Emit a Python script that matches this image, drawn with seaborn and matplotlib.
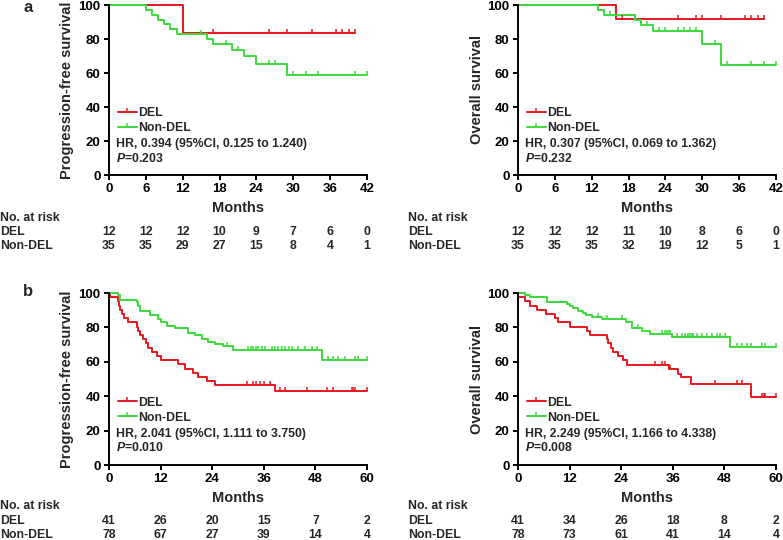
import numpy as np
import pandas as pd
import matplotlib
matplotlib.use("Agg")
import matplotlib.pyplot as plt
from matplotlib.path import Path
from matplotlib.lines import Line2D
from matplotlib.transforms import blended_transform_factory
import seaborn as sns

# ------------------------
# DATA
# ------------------------
# panel a, progression-free survival
a_pfs_del_t = [12]
a_pfs_del_s = [83.3]
a_pfs_del_end = 40
a_pfs_del_cens = [17, 26, 29, 33, 37, 38, 39, 40]
a_pfs_non_t = [6, 7, 8, 9, 10, 11, 16, 17, 20, 22, 24, 29]
a_pfs_non_s = [97.1, 94.3, 91.4, 88.6, 85.7, 82.9, 80.0, 77.0, 73.8, 69.9, 65.5, 58.8]
a_pfs_non_end = 42
a_pfs_non_cens = [15, 19, 21, 26, 27, 30, 32, 34, 40, 42]

# panel a, overall survival
a_os_del_t = [16]
a_os_del_s = [91.7]
a_os_del_end = 40
a_os_del_cens = [17, 26, 29, 30, 33, 37, 38, 39, 40]
a_os_non_t = [13, 14, 19, 20, 22, 30, 33]
a_os_non_s = [97.1, 94.3, 91.3, 88.2, 84.9, 77.3, 64.6]
a_os_non_end = 42
a_os_non_cens = [15, 21, 23, 24, 26, 27, 28, 29, 32, 34, 38, 40, 42]

# panel b, progression-free survival
b_pfs_del_t = [0.2, 2.0, 2.3, 2.6, 3.0, 3.5, 4.5, 6.5, 6.8, 7.2, 8.0, 8.5, 9.0, 10.0,
               11.1, 12.0, 16.1, 17.7, 19.6, 20.8, 22.7, 24.6, 38.6]
b_pfs_del_s = [97.6, 95.1, 92.7, 90.2, 87.8, 85.4, 82.9, 80.5, 78.0, 75.6, 73.2, 70.7, 68.3, 65.9,
               63.4, 61.0, 58.5, 56.1, 53.7, 51.2, 48.8, 46.6, 43.0]
b_pfs_del_end = 60
b_pfs_del_cens = [32, 33.6, 34.3, 35.1, 36.1, 37.4, 39.8, 40.9, 46, 50.6, 52.2, 56.4, 56.8, 57.2, 60]
b_pfs_non_t = [2.0, 2.6, 6.4, 6.8, 7.2, 9.5, 11.5, 12.2, 13.4, 15.3, 18.4, 20.0, 21.6, 23.0,
               24.7, 26.6, 28.9, 49.5]
b_pfs_non_s = [98.7, 96.2, 94.9, 92.3, 89.7, 87.2, 84.6, 83.3, 80.8, 79.5, 76.9, 75.6, 73.1, 71.8,
               70.5, 69.2, 66.7, 61.3]
b_pfs_non_end = 60
b_pfs_non_cens = [27.5, 32.4, 33.0, 33.6, 34.2, 34.7, 35.5, 36.3, 37.8, 38.6, 39.4, 40.2, 41.0,
                  41.8, 42.5, 44.0, 45.6, 47.1, 48.3, 51.0, 52.2, 53.3, 54.9, 57.2, 58.0, 60]

# panel b, overall survival
b_os_del_t = [0.1, 1.7, 2.9, 4.4, 6.5, 8.5, 9.4, 12.0, 16.0, 16.7, 20.6, 21.0, 21.6, 22.2,
              23.3, 24.5, 25.3, 35.2, 37.3, 38.0, 40.2, 54.1]
b_os_del_s = [97.6, 95.1, 92.7, 90.2, 87.8, 85.4, 82.9, 80.5, 78.0, 75.6, 73.2, 70.7, 68.3, 65.9,
              63.4, 61.0, 58.3, 55.6, 53.1, 51.0, 47.2, 39.4]
b_os_del_end = 60
b_os_del_cens = [31.9, 33.4, 34.2, 35.3, 37.3, 45.8, 50.9, 52.0, 56.7, 57.1, 57.4, 60]
b_os_non_t = [1.6, 2.8, 6.7, 11.4, 12.2, 12.8, 13.9, 15.0, 15.9, 17.1, 19.5, 25.0, 26.4, 28.8,
              30.7, 35.7, 49.3]
b_os_non_s = [98.7, 97.4, 94.9, 93.6, 92.3, 91.0, 89.7, 88.5, 87.2, 85.9, 84.6, 83.3, 79.5, 77.7,
              76.2, 74.6, 68.7]
b_os_non_end = 60
b_os_non_cens = [18.7, 20.6, 24.1, 28.0, 33.4, 34.2, 34.6, 35.0, 35.3, 36.9, 38.1, 38.8, 39.6,
                 40.0, 40.4, 40.8, 41.6, 42.7, 43.9, 45.0, 46.2, 47.0, 48.1, 50.9, 52.0, 53.2,
                 54.3, 56.7, 57.4, 60]

# numbers at risk
a_ticks = [0, 6, 12, 18, 24, 30, 36, 42]
b_ticks = [0, 12, 24, 36, 48, 60]
a_pfs_risk_del = [12, 12, 12, 10, 9, 7, 6, 0]
a_pfs_risk_non = [35, 35, 29, 27, 15, 8, 4, 1]
a_os_risk_del = [12, 12, 12, 11, 10, 8, 6, 0]
a_os_risk_non = [35, 35, 35, 32, 19, 12, 5, 1]
b_pfs_risk_del = [41, 26, 20, 15, 7, 2]
b_pfs_risk_non = [78, 67, 27, 39, 14, 4]
b_os_risk_del = [41, 34, 26, 18, 8, 2]
b_os_risk_non = [78, 73, 61, 41, 14, 4]

a_pfs_stats = ("HR, 0.394 (95%CI, 0.125 to 1.240)", "0.203")
a_os_stats = ("HR, 0.307 (95%CI, 0.069 to 1.362)", "0.232")
b_pfs_stats = ("HR, 2.041 (95%CI, 1.111 to 3.750)", "0.010")
b_os_stats = ("HR, 2.249 (95%CI, 1.166 to 4.338)", "0.008")

RED = "#EA161D"
GREEN = "#3CDA3C"

# ------------------------
# STYLE
# ------------------------
sns.set_theme(style="ticks")
plt.rcParams["font.family"] = ["Liberation Sans", "DejaVu Sans"]
plt.rcParams["font.weight"] = "bold"
plt.rcParams["axes.labelweight"] = "bold"
plt.rcParams["mathtext.fontset"] = "custom"
plt.rcParams["mathtext.it"] = "Liberation Sans:italic:bold"
plt.rcParams["mathtext.rm"] = "Liberation Sans:bold"

TICK = Path([(0, 0), (0, 1)], [Path.MOVETO, Path.LINETO])


def draw_curve(ax, times, surv, end, cens, color):
    xs = [0] + list(times) + [end]
    ys = [100] + list(surv) + [surv[-1]]
    df = pd.DataFrame({"x": xs, "y": ys})
    sns.lineplot(data=df, x="x", y="y", drawstyle="steps-post", estimator=None,
                 sort=False, color=color, lw=1.4, ax=ax, clip_on=False)
    step_t = np.array([0] + list(times))
    step_s = np.array([100] + list(surv))
    cy = step_s[np.searchsorted(step_t, cens, side="right") - 1]
    sns.scatterplot(x=cens, y=cy, marker=TICK, s=40, color=color, edgecolor=color,
                    linewidth=1.1, ax=ax, clip_on=False, zorder=3)


def panel(ax, curves, xmax, ticks, ylabel, stats, risk_del, risk_non, rows_y, table_x, label_x):
    for times, surv, end, cens, color in curves:
        draw_curve(ax, times, surv, end, cens, color)
    ax.set_xlim(0, xmax)
    ax.set_ylim(0, 100)
    ax.set_xticks(ticks)
    ax.set_yticks([0, 20, 40, 60, 80, 100])
    sns.despine(ax=ax)
    for s in ["left", "bottom"]:
        ax.spines[s].set_linewidth(1.4)
        ax.spines[s].set_color("black")
    ax.tick_params(direction="out", length=3.5, width=1.4, labelsize=9.5, pad=2.5, colors="black")
    for lab in ax.get_xticklabels() + ax.get_yticklabels():
        lab.set_fontweight("bold")
    ax.set_xlabel("Months", fontsize=10.5, fontweight="bold")
    ax.xaxis.set_label_coords(0.5, -0.15)
    ax.set_ylabel(ylabel, fontsize=10.5, fontweight="bold")
    ax.yaxis.set_label_coords(label_x, 0.5)

    handles = [Line2D([], [], color=RED, lw=1.4, marker=TICK, markersize=6, mew=1.1),
               Line2D([], [], color=GREEN, lw=1.4, marker=TICK, markersize=6, mew=1.1)]
    ax.legend(handles, ["DEL", "Non-DEL"], loc="lower left", bbox_to_anchor=(0.0, 0.19),
              frameon=False, fontsize=8.8, handlelength=1.6, handletextpad=0.1,
              labelspacing=0.25, borderaxespad=0.3, numpoints=1)
    ax.text(0.027, 0.182, stats[0], transform=ax.transAxes, fontsize=8.8,
            fontweight="bold", va="center", ha="left")
    ax.text(0.027, 0.10, r"$\mathit{P}$=" + stats[1], transform=ax.transAxes, fontsize=8.8,
            fontweight="bold", va="center", ha="left")

    fig = ax.figure
    tr = blended_transform_factory(ax.transData, fig.transFigure)
    y0, y1, y2 = [1 - v / 540 for v in rows_y]
    fig.text(table_x, y0, "No. at risk", fontsize=8.8, fontweight="bold", va="center", ha="left")
    fig.text(table_x, y1, "DEL", fontsize=8.8, fontweight="bold", va="center", ha="left")
    fig.text(table_x, y2, "Non-DEL", fontsize=8.8, fontweight="bold", va="center", ha="left")
    for t, d, n in zip(ticks, risk_del, risk_non):
        ax.text(t, y1, str(d), transform=tr, fontsize=8.8, fontweight="bold", ha="center", va="center")
        ax.text(t, y2, str(n), transform=tr, fontsize=8.8, fontweight="bold", ha="center", va="center")


fig = plt.figure(figsize=(7.83, 5.40), dpi=100)
W, H = 783, 540
ax_al = fig.add_axes([109 / W, 1 - 175 / H, 258 / W, 170 / H])
ax_ar = fig.add_axes([518 / W, 1 - 175 / H, 258 / W, 170 / H])
ax_bl = fig.add_axes([109 / W, 1 - 465 / H, 258 / W, 172 / H])
ax_br = fig.add_axes([518 / W, 1 - 465 / H, 258 / W, 172 / H])

panel(ax_al,
      [(a_pfs_del_t, a_pfs_del_s, a_pfs_del_end, a_pfs_del_cens, RED),
       (a_pfs_non_t, a_pfs_non_s, a_pfs_non_end, a_pfs_non_cens, GREEN)],
      42, a_ticks, "Progression-free survival", a_pfs_stats,
      a_pfs_risk_del, a_pfs_risk_non, (218, 232, 246), 0.0, -0.135)
panel(ax_ar,
      [(a_os_del_t, a_os_del_s, a_os_del_end, a_os_del_cens, RED),
       (a_os_non_t, a_os_non_s, a_os_non_end, a_os_non_cens, GREEN)],
      42, a_ticks, "Overall survival", a_os_stats,
      a_os_risk_del, a_os_risk_non, (218, 232, 246), 408 / W, -0.13)
panel(ax_bl,
      [(b_pfs_del_t, b_pfs_del_s, b_pfs_del_end, b_pfs_del_cens, RED),
       (b_pfs_non_t, b_pfs_non_s, b_pfs_non_end, b_pfs_non_cens, GREEN)],
      60, b_ticks, "Progression-free survival", b_pfs_stats,
      b_pfs_risk_del, b_pfs_risk_non, (506, 521, 535), 0.0, -0.135)
panel(ax_br,
      [(b_os_del_t, b_os_del_s, b_os_del_end, b_os_del_cens, RED),
       (b_os_non_t, b_os_non_s, b_os_non_end, b_os_non_cens, GREEN)],
      60, b_ticks, "Overall survival", b_os_stats,
      b_os_risk_del, b_os_risk_non, (506, 521, 535), 408 / W, -0.13)

fig.text(28 / W, 1 - 8 / H, "a", fontsize=12, fontweight="bold", ha="center", va="center")
fig.text(28 / W, 1 - 292 / H, "b", fontsize=12, fontweight="bold", ha="center", va="center")

fig.savefig("out.png", dpi=100)
